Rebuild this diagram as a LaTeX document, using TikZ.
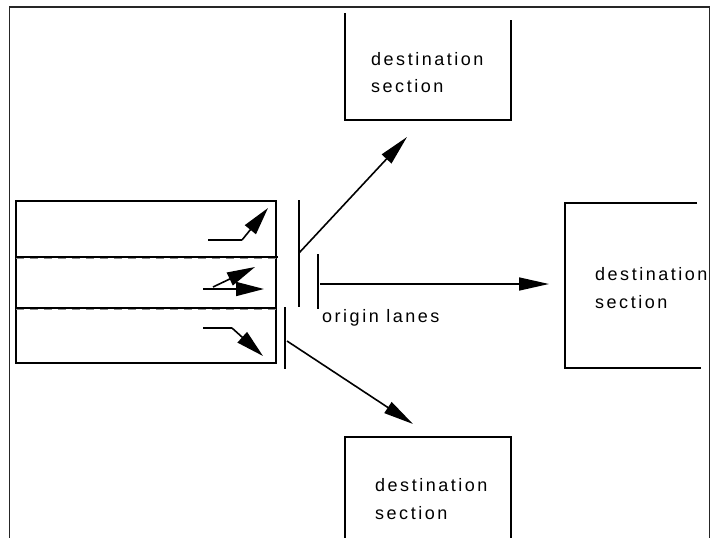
\documentclass[tikz,border=0pt]{standalone}
\usepackage{fontspec}
\setmainfont{Liberation Sans}
\newfontfamily\lbl[LetterSpace=14]{Liberation Sans}
\usetikzlibrary{arrows.meta}
\begin{document}
\begin{tikzpicture}[x=1pt,y=-1pt,
  frame/.style={line width=1.6pt, draw=black!85},
  lanebox/.style={line width=2.6pt},
  bar/.style={line width=2pt},
  wall/.style={line width=2pt},
  flow/.style={line width=1.6pt, -{Triangle[length=30pt,width=13pt]}},
  lanearr/.style={line width=1.6pt, -{Triangle[length=28pt,width=14pt]}},
  txt/.style={font=\lbl\fontsize{18pt}{22pt}\selectfont, inner sep=0pt, anchor=base west}
]
\useasboundingbox (0,0) rectangle (712,538);
% outer frame
\draw[frame] (9.5,538) -- (9.5,7) -- (709.5,7) -- (709.5,538);
% lanes
\draw[lanebox] (16,201) rectangle (276,363);
\draw[line width=2.2pt] (16,257) -- (278,257);
\draw[line width=2.2pt] (16,308) -- (276,308);
\draw[line width=0.9pt, draw=black!45, dash pattern=on 8pt off 6pt] (16,258.6) -- (278,258.6);
\draw[line width=0.9pt, draw=black!45, dash pattern=on 8pt off 6pt] (16,309.6) -- (276,309.6);
% lane turn arrows
\coordinate (l1a) at (208,240); \coordinate (l1b) at (242,240); \coordinate (l1c) at (268,208);
\draw[line width=1.8pt] (l1a) -- (l1b);
\draw[lanearr] (l1b) -- (l1c);
\coordinate (l2a) at (203,289); \coordinate (l2b) at (264,289);
\coordinate (l2c) at (213,287); \coordinate (l2d) at (255,267);
\draw[lanearr] (l2a) -- (l2b);
\draw[lanearr] (l2c) -- (l2d);
\coordinate (l3a) at (203,328); \coordinate (l3b) at (232,328); \coordinate (l3c) at (263,356);
\draw[line width=1.8pt] (l3a) -- (l3b);
\draw[lanearr] (l3b) -- (l3c);
% stop bars
\coordinate (b1t) at (299,200); \coordinate (b1b) at (299,307);
\coordinate (b2t) at (318,254); \coordinate (b2b) at (318,309);
\coordinate (b3t) at (285,307); \coordinate (b3b) at (285,369);
\draw[bar] (b1t) -- (b1b);
\draw[bar] (b2t) -- (b2b);
\draw[bar] (b3t) -- (b3b);
% destination sections
\draw[wall] (345,13) -- (345,120) -- (511,120) -- (511,20);
\draw[wall] (697,203) -- (565,203) -- (565,368) -- (701,368);
\draw[wall] (345,538) -- (345,437) -- (511,437) -- (511,538);
\node[txt] (dtop1) at (371,65) {destination};
\node[txt] (dtop2) at (371,92) {section};
\node[txt] (dright1) at (595,280) {destination};
\node[txt] (dright2) at (595,308) {section};
\node[txt] (dbot1) at (375,491) {destination};
\node[txt] (dbot2) at (375,519) {section};
\node[txt] (orig) at (322,322) {origin lanes};
% flows
\coordinate (f1s) at (299,253); \coordinate (f1e) at (407,137);
\coordinate (f2s) at (320,284); \coordinate (f2e) at (549,284);
\coordinate (f3s) at (287,341); \coordinate (f3e) at (413,424);
\draw[flow] (f1s) -- (f1e);
\draw[flow] (f2s) -- (f2e);
\draw[flow] (f3s) -- (f3e);
\end{tikzpicture}
\end{document}
